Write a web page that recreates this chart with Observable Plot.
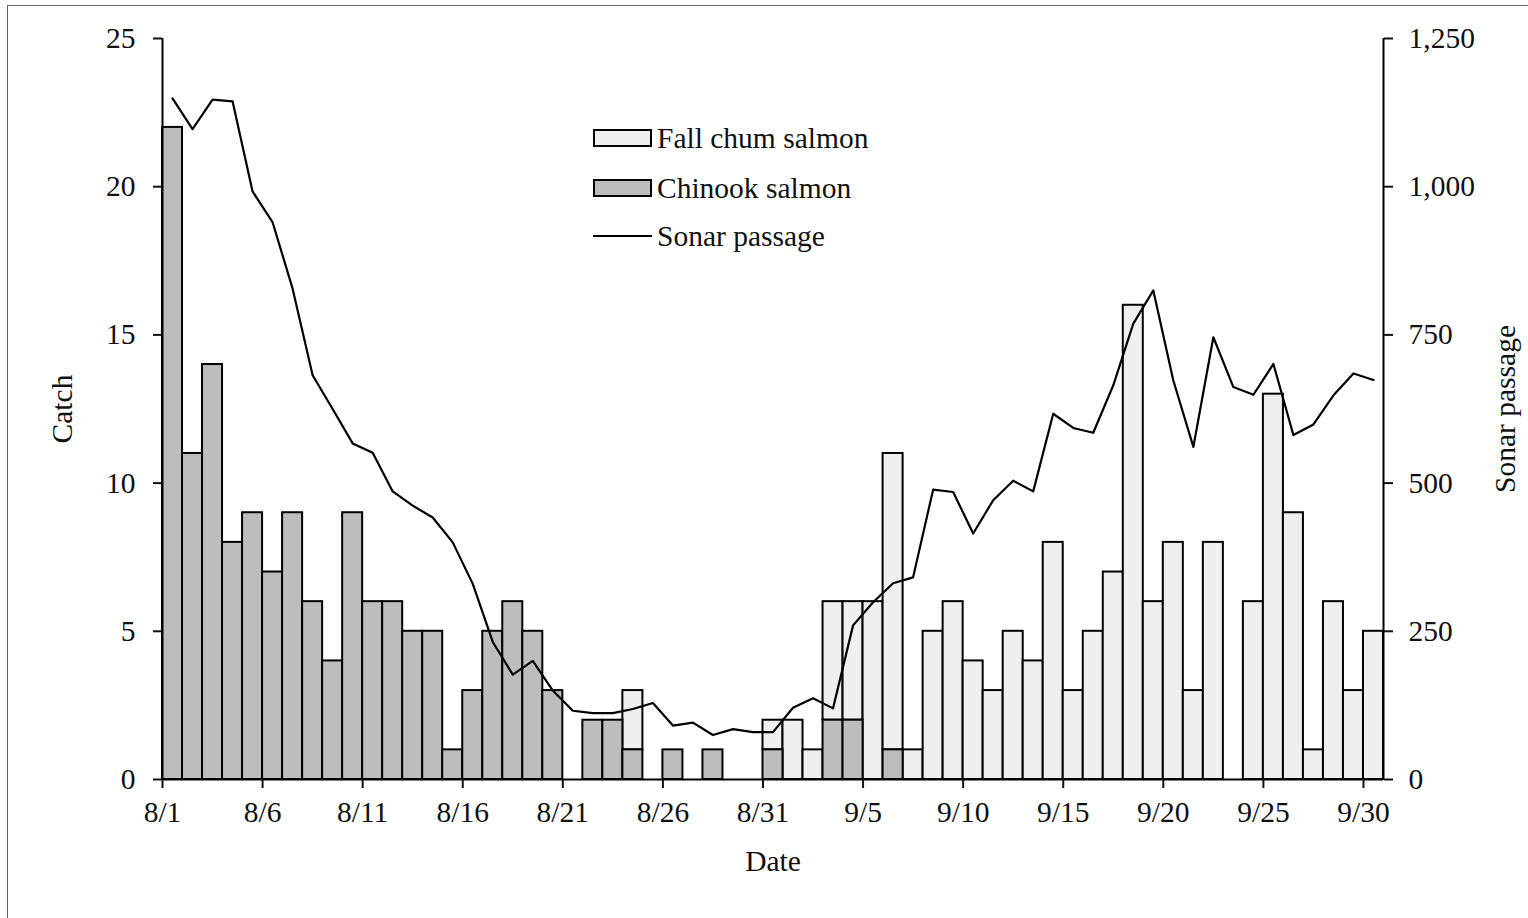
<!DOCTYPE html>
<html><head><meta charset="utf-8">
<script src="https://cdn.jsdelivr.net/npm/d3@7"></script>
<script src="https://cdn.jsdelivr.net/npm/@observablehq/plot@0.6"></script>
<style>
html,body{margin:0;padding:0;background:#fff;overflow:hidden;width:1528px;height:918px}
#wrap{position:relative;width:1528px;height:918px}
#chart{position:absolute;left:0;top:0}
#frame{position:absolute;left:7px;top:5px;width:1600px;height:1000px;border:1px solid #666;box-sizing:border-box;pointer-events:none}
.leg{position:absolute;left:593px;font-family:"Liberation Serif","Times New Roman",serif;font-size:29.5px;display:flex;align-items:center;height:30px;color:#111;white-space:nowrap}
.sw{width:55px;height:14px;border:2px solid #000;margin-right:5px;flex:none}
.ln{width:59px;height:0;border-top:2px solid #000;margin-right:5px;flex:none}
</style></head>
<body>
<div id="wrap">
  <div id="frame"></div>
  <div id="chart"></div>
  <div id="legend"></div>
</div>
<script>
// Day index 0 = 8/1 ... 60 = 9/30
const chinook = [22,11,14,8,9,7,9,6,4,9,6,6,5,5,1,3,5,6,5,3,0,2,2,1,0,1,0,1,0,0,1,
                 0,0,2,2,0,1,0,0,0,0,0,0,0,0,0,0,0,0,0,0,0,0,0,0,0,0,0,0,0,0];
const fallChum = [0,0,0,0,0,0,0,0,0,0,0,0,0,0,0,0,0,0,0,0,0,0,0,2,0,0,0,0,0,0,1,
                  2,1,4,4,6,10,1,5,6,4,3,5,4,8,3,5,7,16,6,8,3,8,0,6,13,9,1,6,3,5];
const sonar = [1149,1097,1147,1144,992,940,828,682,625,567,551,486,462,442,400,330,232,177,200,150,116,
               112,112,119,129,91,96,75,85,80,80,121,137,120,260,299,331,341,489,485,415,
               471,504,486,617,593,585,665,769,825,673,561,746,662,649,701,581,599,648,685,674];
const tickDays = [0,5,10,15,20,25,30,35,40,45,50,55,60];
const tickLabels = ["8/1","8/6","8/11","8/16","8/21","8/26","8/31","9/5","9/10","9/15","9/20","9/25","9/30"];
const catchTicks = [0,5,10,15,20,25];
const sonarTicks = [0,250,500,750,1000,1250];
const sonarPerCatch = 50; // 1,250 on the right axis aligns with 25 on the left

const legendItems = [
  {label:"Fall chum salmon", type:"box", fill:"#efefef"},
  {label:"Chinook salmon", type:"box", fill:"#bdbdbd"},
  {label:"Sonar passage", type:"line"}
];

const data = chinook.map((c, i) => ({i, chinook: c, chum: fallChum[i], sonar: sonar[i]}));
const font = '"Liberation Serif","Times New Roman",serif';
const fs = 29.5;

const plot = Plot.plot({
  width: 1528, height: 918,
  marginLeft: 162, marginRight: 145, marginTop: 38, marginBottom: 139,
  style: {fontFamily: font, fontSize: fs + "px", color: "#111", background: "transparent"},
  x: {domain: [0, 61]},
  y: {domain: [0, 25]},
  marks: [
    Plot.rect(data.filter(d => d.chum > 0), {
      x1: "i", x2: d => d.i + 1, y1: "chinook", y2: d => d.chinook + d.chum,
      fill: "#efefef", stroke: "#000", strokeWidth: 2
    }),
    Plot.rect(data.filter(d => d.chinook > 0), {
      x1: "i", x2: d => d.i + 1, y1: () => 0, y2: "chinook",
      fill: "#bdbdbd", stroke: "#000", strokeWidth: 2
    }),
    Plot.line(data, {x: d => d.i + 0.5, y: d => d.sonar / sonarPerCatch, stroke: "#000", strokeWidth: 2.2}),
    Plot.ruleY([0], {stroke: "#000", strokeWidth: 2}),
    Plot.ruleX([0, 61], {stroke: "#000", strokeWidth: 2}),
    Plot.axisX({ticks: tickDays, tickFormat: d => tickLabels[tickDays.indexOf(d)], tickSize: 9, tickPadding: 13, label: null, strokeWidth: 2, fontSize: fs}),
    Plot.axisY({ticks: catchTicks, tickSize: 9, tickPadding: 18, label: null, strokeWidth: 2, fontSize: fs}),
    Plot.axisY({anchor: "right", ticks: sonarTicks.map(v => v / sonarPerCatch),
      tickFormat: d => d3.format(",")(Math.round(d * sonarPerCatch)),
      tickSize: 9, tickPadding: 16, label: null, strokeWidth: 2, fontSize: fs}),
    Plot.text(["Catch"], {text: d => d, frameAnchor: "left", textAnchor: "middle", dx: -100, rotate: -90, fontSize: fs, fill: "#111"}),
    Plot.text(["Date"], {text: d => d, frameAnchor: "bottom", dy: 91, fontSize: fs, fill: "#111"}),
    Plot.text(["Sonar passage"], {text: d => d, frameAnchor: "right", textAnchor: "middle", dx: 122, rotate: -90, fontSize: fs, fill: "#111"})
  ]
});
document.getElementById("chart").appendChild(plot);

const legend = document.getElementById("legend");
const rowTops = [123, 173, 221];
legendItems.forEach((it, k) => {
  const row = document.createElement("div");
  row.className = "leg";
  row.style.top = rowTops[k] + "px";
  const sw = document.createElement("div");
  if (it.type === "box") { sw.className = "sw"; sw.style.background = it.fill; }
  else sw.className = "ln";
  row.appendChild(sw);
  const t = document.createElement("span");
  t.textContent = it.label;
  row.appendChild(t);
  legend.appendChild(row);
});
</script>
</body></html>
